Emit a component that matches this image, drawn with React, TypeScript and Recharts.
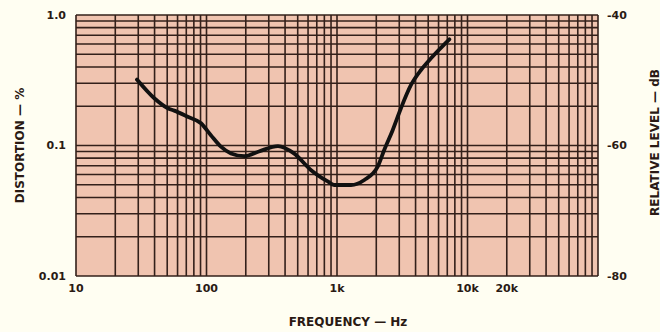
import React from 'react';
import { LineChart, Line, XAxis, YAxis, CartesianGrid } from 'recharts';

const freqHz = [29.3, 39.8, 50.5, 56.6, 71.8, 90.8, 108, 129, 154, 195, 252, 353, 468, 630, 849, 950, 1280, 1620, 2050, 2300, 2670, 3090, 3690, 4400, 5250, 7260];
const distortionPct = [0.32, 0.23, 0.193, 0.185, 0.166, 0.148, 0.12, 0.098, 0.087, 0.083, 0.09, 0.099, 0.087, 0.065, 0.053, 0.0498, 0.0498, 0.0544, 0.0688, 0.0924, 0.131, 0.193, 0.291, 0.379, 0.466, 0.651];

const xTicks = [10, 20, 30, 40, 50, 60, 70, 80, 90, 100, 200, 300, 400, 500, 600, 700, 800, 900, 1000, 2000, 3000, 4000, 5000, 6000, 7000, 8000, 9000, 10000, 20000, 30000, 40000, 50000, 60000, 70000, 80000, 90000, 100000];
const xLabels: Record<number, string> = { 10: '10', 100: '100', 1000: '1k', 10000: '10k', 20000: '20k' };
const yTicks = [0.01, 0.02, 0.03, 0.04, 0.05, 0.06, 0.07, 0.08, 0.09, 0.1, 0.2, 0.3, 0.4, 0.5, 0.6, 0.7, 0.8, 0.9, 1];
const yLabels: Record<string, string> = { '0.01': '0.01', '0.1': '0.1', '1': '1.0' };
const dbTicks = [-80, -60, -40];

const data = freqHz.map((f, i) => ({ f, d: distortionPct[i] }));

const FONT = '"DejaVu Sans", "Liberation Sans", sans-serif';
const INK = '#2a1a14';
const tickStyle = { fill: INK, fontSize: 11, fontFamily: FONT, fontWeight: 600 };

const titleStyle = { fill: INK, fontSize: 12, fontFamily: FONT, fontWeight: 600 } as const;

export default function App() {
  return (
    <div style={{ position: 'absolute', left: 0, top: 0, width: 660, height: 332, background: '#fffef2' }}>
      <LineChart width={660} height={332} data={data} margin={{ top: 15, right: 0, bottom: 0, left: 0 }}>
        <CartesianGrid
          yAxisId="left"
          fill="#f0c4b0"
          fillOpacity={1}
          stroke="#33201a"
          strokeWidth={1.6}
          horizontal
          vertical
        />
        <XAxis
          dataKey="f"
          type="number"
          scale="log"
          domain={[10, 100000]}
          ticks={xTicks}
          interval={0}
          allowDataOverflow
          height={56}
          axisLine={false}
          tickLine={false}
          tickSize={6}
          tickMargin={2}
          tick={tickStyle}
          tickFormatter={(v: number) => xLabels[v] ?? ''}
          label={{
            content: (p: any) => {
              const vb = p.viewBox || {};
              return (
                <text x={vb.x + vb.width / 2 + 11} y={vb.y + 50} textAnchor="middle" style={titleStyle}>
                  FREQUENCY — Hz
                </text>
              );
            },
          }}
        />
        <YAxis
          yAxisId="left"
          type="number"
          scale="log"
          domain={[0.01, 1]}
          ticks={yTicks}
          interval={0}
          allowDataOverflow
          width={76}
          axisLine={false}
          tickLine={false}
          tickSize={6}
          tickMargin={4}
          tick={tickStyle}
          tickFormatter={(v: number) => yLabels[String(Math.round(v * 100) / 100)] ?? ''}
          label={{
            content: (p: any) => {
              const vb = p.viewBox || {};
              const cx = 20;
              const cy = vb.y + vb.height / 2;
              return (
                <text x={cx} y={cy} textAnchor="middle" dominantBaseline="middle" transform={`rotate(-90 ${cx} ${cy})`} style={titleStyle}>
                  DISTORTION — %
                </text>
              );
            },
          }}
        />
        <YAxis
          yAxisId="db"
          orientation="right"
          type="number"
          domain={[-80, -40]}
          ticks={dbTicks}
          interval={0}
          allowDataOverflow
          width={62}
          axisLine={false}
          tickLine={false}
          tickSize={6}
          tickMargin={3}
          tick={tickStyle}
          label={{
            content: (p: any) => {
              const vb = p.viewBox || {};
              const cx = vb.x + 57;
              const cy = vb.y + vb.height / 2 - 3;
              return (
                <text x={cx} y={cy} textAnchor="middle" dominantBaseline="middle" transform={`rotate(-90 ${cx} ${cy})`} style={titleStyle}>
                  RELATIVE LEVEL — dB
                </text>
              );
            },
          }}
        />
        <Line
          yAxisId="left"
          dataKey="d"
          type="monotone"
          stroke="#111"
          strokeWidth={3.8}
          strokeLinecap="round"
          dot={false}
          isAnimationActive={false}
        />
      </LineChart>
    </div>
  );
}
